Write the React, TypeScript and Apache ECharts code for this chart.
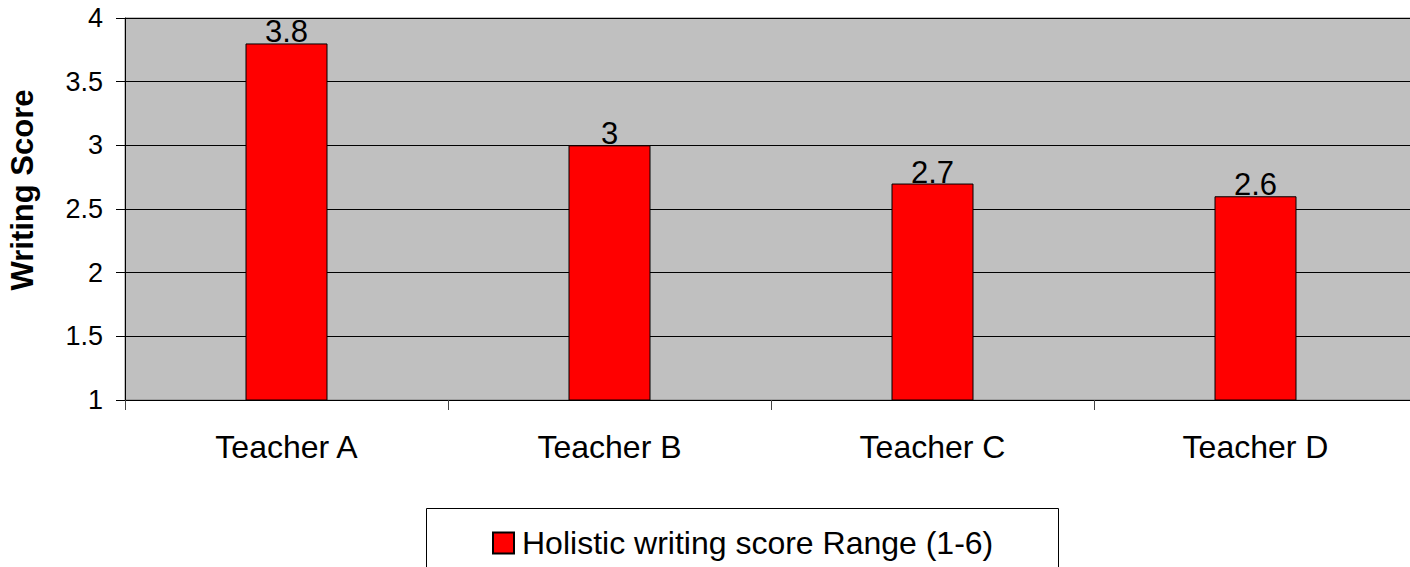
import React, { useEffect, useRef } from "react";
import * as echarts from "echarts";

const categories = ["Teacher A", "Teacher B", "Teacher C", "Teacher D"];
const scores = [3.8, 3, 2.7, 2.6];
const seriesName = "Holistic writing score Range (1-6)";
const yAxisTitle = "Writing Score";
const FONT = "'Liberation Sans', Arial, sans-serif";

export default function App() {
  const ref = useRef<HTMLDivElement>(null);
  useEffect(() => {
    if (!ref.current) return;
    const chart = echarts.init(ref.current, undefined, { renderer: "svg" });
    chart.setOption({
      animation: false,
      backgroundColor: "#ffffff",
      textStyle: { fontFamily: FONT },
      grid: {
        left: 125,
        top: 18,
        right: 1,
        bottom: 167,
        show: true,
        backgroundColor: "#C0C0C0",
        borderColor: "#808080",
        borderWidth: 1,
      },
      xAxis: {
        type: "category",
        data: categories,
        axisLine: { lineStyle: { color: "#000", width: 1 } },
        axisTick: { show: true, length: 10, lineStyle: { color: "#444" } },
        axisLabel: { fontSize: 32, color: "#000", margin: 31, fontFamily: FONT },
        splitLine: { show: false },
      },
      yAxis: {
        type: "value",
        min: 1,
        max: 4,
        interval: 0.5,
        axisLine: { show: true, lineStyle: { color: "#000", width: 1 } },
        axisTick: { show: true, length: 9, lineStyle: { color: "#000" } },
        axisLabel: { fontSize: 27, color: "#000", margin: 22, fontFamily: FONT },
        splitLine: { show: true, lineStyle: { color: "#000", width: 1 } },
      },
      legend: {
        show: true,
        left: 492,
        top: 527,
        padding: 0,
        icon: "rect",
        itemWidth: 21,
        itemHeight: 21,
        textStyle: { fontSize: 32, color: "#000", fontFamily: FONT, padding: [0, 0, 0, 3] },
        data: [seriesName],
      },
      graphic: [
        {
          type: "rect",
          shape: { x: 426.5, y: 508.5, width: 632, height: 80 },
          style: { fill: "none", stroke: "#000", lineWidth: 1 },
          z: -1,
        },
        {
          type: "text",
          x: 22,
          y: 190,
          rotation: Math.PI / 2,
          style: {
            text: yAxisTitle,
            font: `bold 31px ${FONT}`,
            fill: "#000",
            textAlign: "center",
            textVerticalAlign: "middle",
          },
        },
      ],
      series: [
        {
          name: seriesName,
          type: "bar",
          data: scores,
          barWidth: 82,
          itemStyle: { color: "#FF0000", borderColor: "#000", borderWidth: 1 },
          label: {
            show: true,
            position: "top",
            distance: -4,
            fontSize: 31,
            color: "#000",
            fontFamily: FONT,
          },
        },
      ],
    });
    return () => chart.dispose();
  }, []);
  return (
    <div
      style={{
        position: "fixed",
        left: 0,
        top: 0,
        width: 1410,
        height: 567,
        overflow: "hidden",
      }}
    >
      <div ref={ref} style={{ width: 1418, height: 567 }} />
    </div>
  );
}
